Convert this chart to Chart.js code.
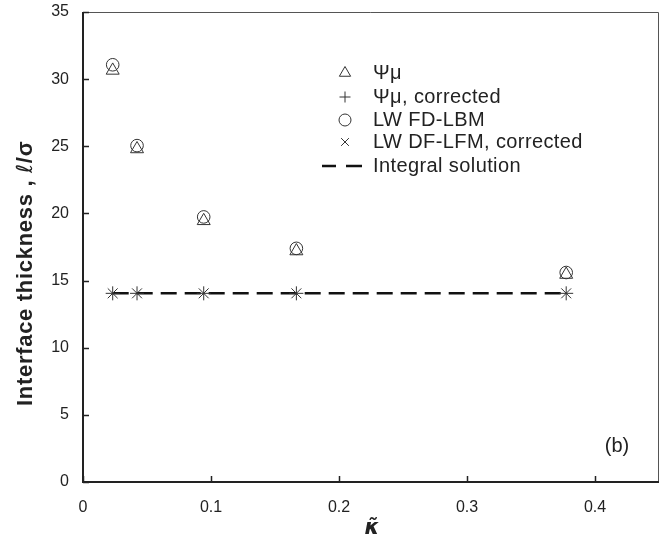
<!DOCTYPE html>
<html lang="en">
<head>
<meta charset="UTF-8">
<title>Interface thickness</title>
<script src="https://cdn.jsdelivr.net/npm/chart.js"></script>
<style>
  body { margin: 0; background: #fff; }
  #wrap { width: 668px; height: 541px; }
</style>
</head>
<body>
<div id="wrap"><canvas id="chart" width="668" height="541"></canvas></div>
<script>
  // values
  const kappa = [0.0232, 0.0422, 0.0943, 0.1667, 0.3775];
  const psiMu = [30.65, 24.8, 19.45, 17.2, 15.45];
  const psiMuCorrected = [14.05, 14.05, 14.05, 14.05, 14.05];
  const lwFdLbm = [31.07, 25.05, 19.74, 17.4, 15.6];
  const lwDfLfmCorrected = [14.05, 14.05, 14.05, 14.05, 14.05];
  const integralX = [0.0232, 0.3775];
  const integralY = [14.05, 14.05];

  const xTicks = [0, 0.1, 0.2, 0.3, 0.4];
  const yTicks = [0, 5, 10, 15, 20, 25, 30, 35];

  const legendLabels = ['Ψμ', 'Ψμ, corrected', 'LW FD-LBM', 'LW DF-LFM, corrected', 'Integral solution'];

  const ink = '#222';
  const markColor = '#333';
  const font = '"Liberation Sans", Arial, sans-serif';

  function pts(xs, ys) {
    return xs.map((x, i) => ({ x: x, y: ys[i] }));
  }

  function markers(label, data, style, r) {
    return {
      label: label,
      data: data,
      showLine: false,
      pointStyle: style,
      pointRadius: r,
      pointBorderColor: markColor,
      pointBackgroundColor: 'rgba(0,0,0,0)',
      pointBorderWidth: 1,
      borderColor: markColor
    };
  }

  const datasets = [
    markers(legendLabels[0], pts(kappa, psiMu), 'triangle', 7.5),
    markers(legendLabels[1], pts(kappa, psiMuCorrected), 'cross', 7),
    markers(legendLabels[2], pts(kappa, lwFdLbm), 'circle', 6.3),
    markers(legendLabels[3], pts(kappa, lwDfLfmCorrected), 'crossRot', 7),
    {
      label: legendLabels[4],
      data: pts(integralX, integralY),
      showLine: true,
      borderColor: '#111',
      borderWidth: 2.5,
      borderDash: [16, 8],
      pointRadius: 0,
      fill: false
    }
  ];

  // legend marker sizes are a bit smaller than the plotted ones
  const legendRadius = [6.5, 5.5, 6, 5.5];

  // frame, inward ticks, axis titles, legend and panel tag
  const overlay = {
    id: 'overlay',
    afterDraw(chart) {
      const ctx = chart.ctx;
      const a = chart.chartArea;
      const xs = chart.scales.x, ys = chart.scales.y;
      ctx.save();

      // frame
      ctx.strokeStyle = '#555';
      ctx.lineWidth = 1;
      ctx.beginPath();
      ctx.moveTo(a.left, a.top + 0.5);
      ctx.lineTo(a.right - 0.5, a.top + 0.5);
      ctx.lineTo(a.right - 0.5, a.bottom);
      ctx.stroke();
      ctx.strokeStyle = ink;
      ctx.lineWidth = 2;
      ctx.beginPath();
      ctx.moveTo(a.left, a.top);
      ctx.lineTo(a.left, a.bottom);
      ctx.lineTo(a.right, a.bottom);
      ctx.stroke();

      // inward ticks
      ctx.lineWidth = 1.5;
      ctx.beginPath();
      xTicks.forEach(v => {
        const px = Math.round(xs.getPixelForValue(v)) + 0.5;
        ctx.moveTo(px, a.bottom);
        ctx.lineTo(px, a.bottom - 6);
      });
      yTicks.forEach(v => {
        const py = Math.round(ys.getPixelForValue(v)) + 0.5;
        ctx.moveTo(a.left, py);
        ctx.lineTo(a.left + 6, py);
      });
      ctx.stroke();

      // x title
      ctx.fillStyle = ink;
      ctx.textAlign = 'center';
      ctx.textBaseline = 'middle';
      ctx.font = 'italic bold 21px "DejaVu Sans", sans-serif';
      ctx.fillText('κ̃', (a.left + a.right) / 2 + 1, 529);

      // y title, rotated, mixed styles
      ctx.save();
      ctx.translate(26, 406);
      ctx.rotate(-Math.PI / 2);
      ctx.textAlign = 'left';
      ctx.letterSpacing = '0.7px';
      const parts = [
        ['Interface thickness , ', 'bold 22px ' + font],
        ['ℓ', 'italic 22px "DejaVu Sans", sans-serif'],
        ['/σ', 'bold 22px ' + font]
      ];
      let off = 0;
      parts.forEach(p => {
        ctx.font = p[1];
        ctx.fillText(p[0], off, 0);
        off += ctx.measureText(p[0]).width;
      });
      ctx.restore();

      // legend
      const rows = [73, 97, 120, 142, 166];
      ctx.font = '20px ' + font;
      ctx.letterSpacing = '0.4px';
      ctx.textAlign = 'left';
      chart.data.datasets.forEach((ds, i) => {
        const y = rows[i];
        ctx.strokeStyle = markColor;
        ctx.fillStyle = 'rgba(0,0,0,0)';
        if (ds.showLine) {
          ctx.strokeStyle = '#111';
          ctx.lineWidth = 2.5;
          ctx.beginPath();
          ctx.moveTo(322, y); ctx.lineTo(336, y);
          ctx.moveTo(346, y); ctx.lineTo(362, y);
          ctx.stroke();
        } else {
          ctx.lineWidth = 1;
          Chart.helpers.drawPoint(ctx, {
            pointStyle: ds.pointStyle,
            radius: legendRadius[i],
            rotation: 0,
            borderWidth: 1
          }, 345, y);
        }
        ctx.fillStyle = ink;
        ctx.fillText(ds.label, 373, y);
      });

      // panel tag
      ctx.letterSpacing = '0px';
      ctx.font = '20px ' + font;
      ctx.textAlign = 'center';
      ctx.fillText('(b)', 617, 446);

      ctx.restore();
    }
  };

  new Chart(document.getElementById('chart'), {
    type: 'scatter',
    data: { datasets: datasets },
    options: {
      responsive: false,
      animation: false,
      layout: { padding: { top: 12, right: 9, left: 0, bottom: 0 } },
      plugins: {
        legend: { display: false },
        tooltip: { enabled: false }
      },
      scales: {
        x: {
          type: 'linear',
          min: 0,
          max: 0.45,
          afterFit: s => { s.height = 59; s.paddingLeft = 0; s.paddingRight = 0; },
          afterBuildTicks: s => { s.ticks = xTicks.map(v => ({ value: v })); },
          grid: { display: false, drawTicks: false },
          border: { display: false },
          ticks: {
            color: ink,
            padding: 16,
            font: { family: font, size: 16 },
            callback: v => String(v)
          }
        },
        y: {
          type: 'linear',
          min: 0,
          max: 35,
          afterFit: s => { s.width = 83; s.paddingTop = 0; s.paddingBottom = 0; },
          afterBuildTicks: s => { s.ticks = yTicks.map(v => ({ value: v })); },
          grid: { display: false, drawTicks: false },
          border: { display: false },
          ticks: {
            color: ink,
            padding: 14,
            font: { family: font, size: 16 },
            callback: v => String(v)
          }
        }
      }
    },
    plugins: [overlay]
  });
</script>
</body>
</html>
